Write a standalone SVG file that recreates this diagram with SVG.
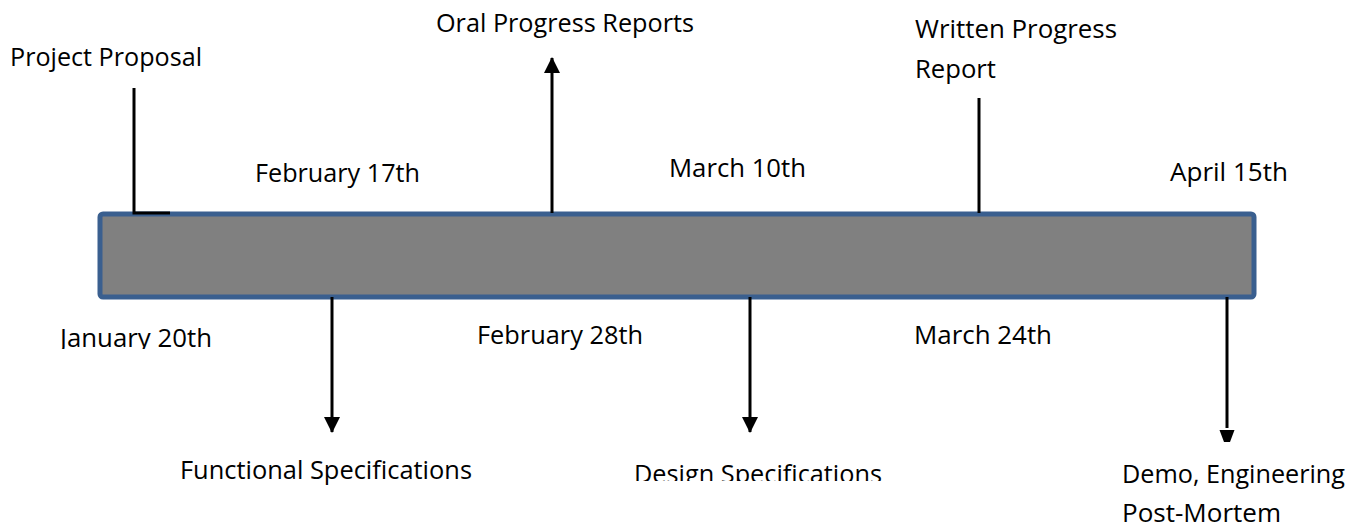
<svg xmlns="http://www.w3.org/2000/svg" width="1361" height="531" viewBox="0 0 1361 531">
  <style>
    .lbl { font-family: "Open Sans", "Liberation Sans", sans-serif; font-size: 25.5px; fill: #000; }
    .wire { stroke: #000; stroke-width: 3; fill: none; }
  </style>
  <defs>
    <marker id="head" viewBox="0 0 16 16" markerWidth="16" markerHeight="16" refX="15" refY="8" orient="auto" markerUnits="userSpaceOnUse">
      <path d="M0,0 L16,8 L0,16 Z" fill="#000"/>
    </marker>
    <clipPath id="clipJan"><rect x="0" y="300" width="300" height="49"/></clipPath>
    <clipPath id="clipDesign"><rect x="600" y="440" width="320" height="41"/></clipPath>
  </defs>

  <rect width="1361" height="531" fill="#fff"/>

  <!-- timeline bar -->
  <g id="timeline">
    <rect x="100" y="214" width="1154" height="83" rx="3" fill="#808080" stroke="#3a5f8f" stroke-width="5"/>
  </g>

  <!-- connectors -->
  <g id="connectors">
    <path class="wire" d="M134,88 V213 H170"/>
    <line class="wire" x1="552" y1="213" x2="552" y2="58" marker-end="url(#head)"/>
    <line class="wire" x1="979" y1="98" x2="979" y2="213"/>
    <line class="wire" x1="332" y1="297" x2="332" y2="432" marker-end="url(#head)"/>
    <line class="wire" x1="750" y1="297" x2="750" y2="432" marker-end="url(#head)"/>
    <line class="wire" x1="1227" y1="297" x2="1227" y2="428"/>
    <path d="M1219.5,430 L1234.5,430 L1230,442 L1224,442 Z" fill="#000"/>
  </g>

  <!-- milestone labels above the bar -->
  <g id="project-proposal">
    <text class="lbl" x="10" y="66" textLength="192" lengthAdjust="spacingAndGlyphs">Project Proposal</text>
  </g>
  <g id="oral-progress">
    <text class="lbl" x="436" y="32" textLength="258" lengthAdjust="spacingAndGlyphs">Oral Progress Reports</text>
  </g>
  <g id="written-progress">
    <text class="lbl" x="915" y="38" textLength="202" lengthAdjust="spacingAndGlyphs">Written Progress</text>
    <text class="lbl" x="915" y="78" textLength="81" lengthAdjust="spacingAndGlyphs">Report</text>
  </g>
  <g id="date-feb17">
    <text class="lbl" x="255" y="182" textLength="165" lengthAdjust="spacingAndGlyphs">February 17th</text>
  </g>
  <g id="date-mar10">
    <text class="lbl" x="669" y="177" textLength="137" lengthAdjust="spacingAndGlyphs">March 10th</text>
  </g>
  <g id="date-apr15">
    <text class="lbl" x="1170" y="181" textLength="118" lengthAdjust="spacingAndGlyphs">April 15th</text>
  </g>

  <!-- milestone labels below the bar -->
  <g id="date-jan20" clip-path="url(#clipJan)">
    <text class="lbl" x="60" y="347" textLength="152" lengthAdjust="spacingAndGlyphs">January 20th</text>
  </g>
  <g id="date-feb28">
    <text class="lbl" x="477" y="344" textLength="166" lengthAdjust="spacingAndGlyphs">February 28th</text>
  </g>
  <g id="date-mar24">
    <text class="lbl" x="914" y="344" textLength="138" lengthAdjust="spacingAndGlyphs">March 24th</text>
  </g>
  <g id="functional-specs">
    <text class="lbl" x="180" y="479" textLength="292" lengthAdjust="spacingAndGlyphs">Functional Specifications</text>
  </g>
  <g id="design-specs" clip-path="url(#clipDesign)">
    <text class="lbl" x="634" y="483" textLength="248" lengthAdjust="spacingAndGlyphs">Design Specifications</text>
  </g>
  <g id="demo">
    <text class="lbl" x="1122" y="483" textLength="223" lengthAdjust="spacingAndGlyphs">Demo, Engineering</text>
    <text class="lbl" x="1122" y="522" textLength="159" lengthAdjust="spacingAndGlyphs">Post-Mortem</text>
  </g>
</svg>
